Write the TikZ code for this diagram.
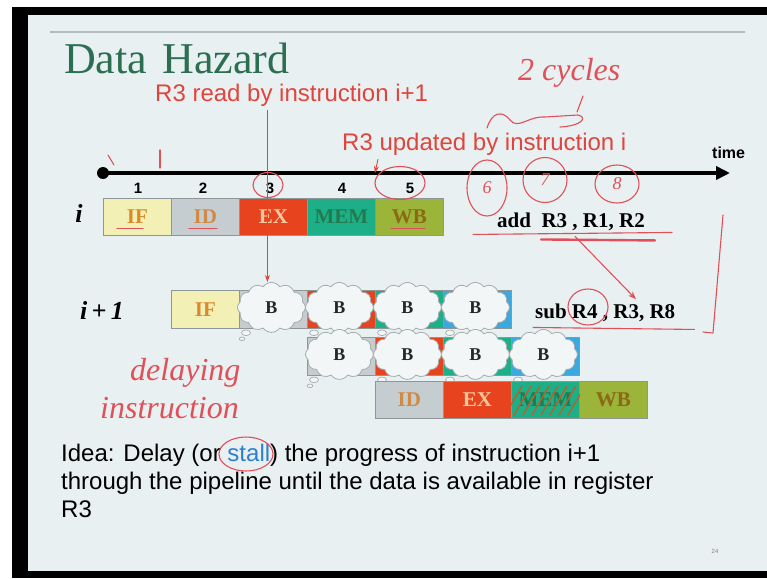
\documentclass[tikz,border=0pt]{standalone}
\usepackage{fontspec}
\setmainfont{Liberation Serif}
\newfontfamily\arial{Liberation Sans}
\usetikzlibrary{shapes.symbols,shapes.geometric,arrows.meta,calc}
\definecolor{slidebg}{HTML}{E9F0F2}
\definecolor{titlegreen}{HTML}{2B6E52}
\definecolor{slidered}{HTML}{E0443C}
\definecolor{handred}{HTML}{E05058}
\definecolor{handbrown}{HTML}{B8602E}
\definecolor{stallblue}{HTML}{2F7FD0}
\definecolor{topline}{HTML}{B4BCBD}
\definecolor{cIF}{HTML}{F2F0B4}
\definecolor{tIF}{HTML}{D98A2B}
\definecolor{cID}{HTML}{C6CDD1}
\definecolor{tID}{HTML}{CF8A45}
\definecolor{cEX}{HTML}{E8431F}
\definecolor{tEX}{HTML}{F7C99A}
\definecolor{cMEM}{HTML}{1DAF88}
\definecolor{tMEM}{HTML}{237A4E}
\definecolor{cWB}{HTML}{9BB43A}
\definecolor{tWB}{HTML}{8A6A12}
\definecolor{cBLU}{HTML}{39A9DF}
\definecolor{cellline}{HTML}{8E9698}
\definecolor{cloudfill}{HTML}{F3F6F6}
\definecolor{cloudline}{HTML}{A7AEAF}
\begin{document}
\begin{tikzpicture}[x=1pt,y=-1pt,
  cell/.style={draw=cellline, line width=0.8pt, minimum width=68pt, minimum height=37pt, inner sep=0pt, anchor=north west, font=\bfseries\fontsize{21}{21}\selectfont},
  bcloud/.style={cloud, cloud puffs=12, cloud puff arc=110, aspect=1.45, minimum width=68pt, minimum height=50pt, inner sep=0pt, draw=cloudline, line width=0.8pt, fill=cloudfill, font=\bfseries\fontsize{18}{18}\selectfont, text=black!85},
  tailpuff/.style={draw=cloudline, line width=0.7pt, fill=cloudfill},
  redtext/.style={text=slidered, font=\arial\fontsize{24}{24}\selectfont, inner sep=0pt, anchor=base west},
  num/.style={font=\arial\bfseries\fontsize{15}{15}\selectfont, inner sep=0pt},
  hand/.style={draw=handred, line width=1.1pt, line cap=round, line join=round},
  handtext/.style={text=handred, font=\itshape\fontsize{32}{32}\selectfont, inner sep=0pt},
  handoval/.style={ellipse, draw=handred, line width=1.1pt, inner sep=0pt, text=handred, font=\itshape\fontsize{18}{18}\selectfont},
  redarrow/.style={draw=slidered, line width=0.9pt, -{Stealth[length=7pt,width=5pt]}},
]
\useasboundingbox (0,0) rectangle (767,578);
% frame and slide
\fill[white] (0,0) rectangle (767,578);
\fill[black] (12,7) rectangle (767,578);
\fill[slidebg] (28,15) rectangle (767,571);
\draw[topline, line width=1.2pt] (50,32) -- (745,32);

% title and labels
\node[anchor=base west, inner sep=0pt, text=titlegreen, font=\fontsize{44}{44}\selectfont] (title) at (64,73) {Data\hspace{15pt}Hazard};
\node[redtext] (rread) at (155,101) {R3 read by instruction i+1};
\node[redtext] (rupd) at (342,150) {R3 updated by instruction i};
\node[anchor=base west, inner sep=0pt, font=\arial\bfseries\fontsize{16}{16}\selectfont] (time) at (712,158) {time};

% timeline
\node[circle, fill=black, minimum size=12pt, inner sep=0pt] (t0) at (103,173) {};
\coordinate (tend) at (730,173);
\draw[line width=3.6pt, -{Triangle[length=14pt,width=13pt]}] (t0.center) -- (tend);
\node[num] (n1) at (138,188) {1};
\node[num] (n2) at (203,188) {2};
\node[num] (n3) at (270,188) {3};
\node[num] (n4) at (342,188) {4};
\node[num] (n5) at (410,188) {5};

% row i
\node[inner sep=0pt, font=\bfseries\itshape\fontsize{26}{26}\selectfont] (li) at (79,213) {i};
\node[cell, fill=cIF, text=tIF] (a1) at (103,198) {IF};
\node[cell, fill=cID, text=tID] (a2) at (171,198) {ID};
\node[cell, fill=cEX, text=tEX] (a3) at (239,198) {EX};
\node[cell, fill=cMEM, text=tMEM] (a4) at (307,198) {MEM};
\node[cell, fill=cWB, text=tWB] (a5) at (375,198) {WB};
\node[anchor=base west, inner sep=0pt, font=\bfseries\fontsize{21}{21}\selectfont] (add) at (497,227) {add\ \ R3 , R1, R2};

% row i+1
\node[inner sep=0pt, font=\bfseries\itshape\fontsize{26}{26}\selectfont] (li1) at (102,310) {i\,+\,1};
\node[cell, fill=cIF, text=tIF, minimum height=38pt] (b0) at (171,290) {IF};
\foreach \i/\c in {1/cID,2/cEX,3/cMEM,4/cBLU}{
  \node[cell, fill=\c, minimum height=38pt] (b\i) at ({171+68*\i},290) {};
}
\foreach \i in {1,...,4}{
  \node[bcloud] (bc\i) at ($(b\i.center)+(-2,-2)$) {B};
  \draw[tailpuff] ($(b\i.south west)+(7,4)$) ellipse [x radius=4.5pt, y radius=2.8pt];
  \draw[tailpuff] ($(b\i.south west)+(3,10)$) ellipse [x radius=2.8pt, y radius=1.8pt];
}
\node[anchor=base west, inner sep=0pt, font=\bfseries\fontsize{21}{21}\selectfont] (sub) at (535,318) {sub R4 , R3, R8};

% second stall row
\foreach \i/\c in {1/cID,2/cEX,3/cMEM,4/cBLU}{
  \node[cell, fill=\c, minimum height=38pt] (c\i) at ({239+68*\i},337) {};
}
\foreach \i in {1,...,4}{
  \node[bcloud] (cc\i) at ($(c\i.center)+(-2,-2)$) {B};
  \draw[tailpuff] ($(c\i.south west)+(7,4)$) ellipse [x radius=4.5pt, y radius=2.8pt];
  \draw[tailpuff] ($(c\i.south west)+(3,10)$) ellipse [x radius=2.8pt, y radius=1.8pt];
}

% resumed row
\node[cell, fill=cID, text=tID] (d1) at (375,381) {ID};
\node[cell, fill=cEX, text=tEX] (d2) at (443,381) {EX};
\node[cell, fill=cMEM, text=tMEM] (d3) at (511,381) {MEM};
\node[cell, fill=cWB, text=tWB] (d4) at (579,381) {WB};

% printed red arrows
\draw[redarrow] (bc1.north |- rread.south) ++(-4,4) -- ($(bc1.north)+(-4,0)$);
\coordinate (wbt) at (a5.north west |- t0.center);
\draw[redarrow] ($(wbt |- rupd.south)+(3,4)$) -- (wbt);

% idea text
\node[anchor=north west, inner sep=0pt, align=left, font=\arial\fontsize{24}{28}\selectfont] (idea) at (61,444)
  {Idea: Delay (or {\color{stallblue}stall}) the progress of instruction i+1\\through the pipeline until the data is available in register\\R3};
\node[inner sep=0pt, text=gray, font=\arial\fontsize{6}{6}\selectfont] (pg) at (715,551) {24};

% handwritten annotations
\node[anchor=base west, handtext] (cyc) at (518,80) {2 cycles};
\draw[hand] (583,96) -- (577,112);
\draw[hand] (487,128) .. controls (492,112) and (502,110) .. (510,120) .. controls (518,130) and (528,116) .. (545,117) -- (578,115) .. controls (588,117) and (582,126) .. (560,127);
\draw[hand] (108,155) -- (114,165);
\draw[hand] (160,150) -- (160,168);
\node[handoval, minimum width=30pt, minimum height=25pt] (h3) at (268,185) {};
\node[handoval, minimum width=50pt, minimum height=33pt] (h5) at (400,183) {};
\node[handoval, minimum width=40pt, minimum height=56pt] (h6) at (487,188) {6};
\node[handoval, minimum width=44pt, minimum height=45pt] (h7) at (545,180) {7};
\node[handoval, minimum width=44pt, minimum height=38pt] (h8) at (617,184) {8};
\draw[hand] ($(add.south west)+(-24,4)$) -- ($(add.south east)+(27,2)$);
\draw[hand, line width=2.4pt] ($(add.south west)+(44,9)$) -- ($(add.south west)+(158,10)$);
\draw[hand, -{Stealth[length=8pt,width=6pt]}] ($(add.south west)+(78,6)$) -- ($(sub.north west)+(101,-4)$);
\draw[hand] ($(sub.south west)+(-2,6)$) -- ($(sub.south east)+(19,8)$);
\node[handoval, minimum width=40pt, minimum height=36pt] (hr4) at (588,307) {};
\draw[hand] (723,215) -- (713,333) -- (703,332);
\draw[hand] ($(a1.south west)+(14,-7)$) -- ($(a1.south west)+(40,-7)$);
\draw[hand] ($(a2.south west)+(18,-7)$) -- ($(a2.south west)+(46,-7)$);
\draw[hand] ($(a5.south west)+(16,-7)$) -- ($(a5.south west)+(50,-7)$);
\begin{scope}
  \clip (d3.south west) rectangle (d3.north east);
  \foreach \k in {0,...,7}{ \draw[draw=handbrown, line width=1.4pt] ({505+\k*9},415) -- ({522+\k*9},386); }
\end{scope}
\node[anchor=base west, handtext] (del) at (130,380) {delaying};
\node[anchor=base west, handtext] (ins) at (100,418) {instruction};
\node[handoval, minimum width=54pt, minimum height=34pt] (hst) at (246,454) {};
\end{tikzpicture}
\end{document}
